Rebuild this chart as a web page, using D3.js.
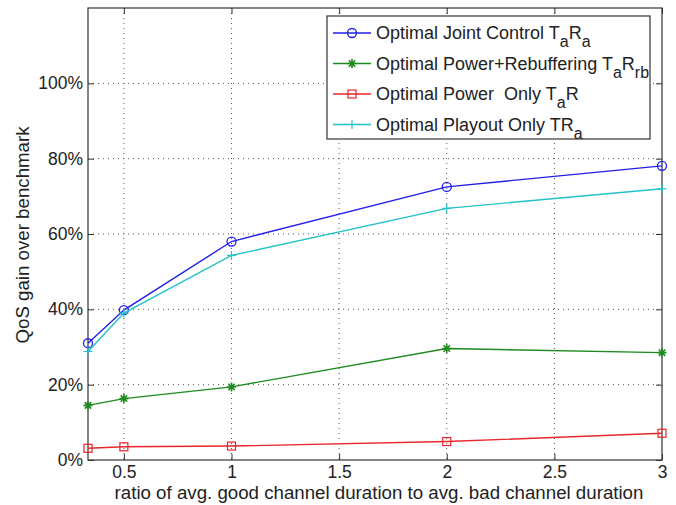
<!DOCTYPE html>
<html>
<head>
<script src="https://d3js.org/d3.v7.min.js"></script>
<style>
  body { margin: 0; background: #fff; }
  text { font-family: "Liberation Sans", Arial, Helvetica, sans-serif; fill: #222; white-space: pre; }
</style>
</head>
<body>
<svg id="chart" width="676" height="505"></svg>
<script>
// data
const ratios = [1/3, 0.5, 1, 2, 3];
const jointControl = [0.310, 0.398, 0.580, 0.725, 0.781];
const powerRebuf = [0.145, 0.163, 0.194, 0.296, 0.285];
const powerOnly = [0.031, 0.035, 0.037, 0.049, 0.071];
const playoutOnly = [0.288, 0.390, 0.543, 0.668, 0.720];
const xTicks = [0.5, 1, 1.5, 2, 2.5, 3];
const yTicks = [0, 0.2, 0.4, 0.6, 0.8, 1.0];

const series = [
  {parts: [["Optimal Joint Control T",0],["a",1],["R",0],["a",1]], vals: jointControl, color: "#1f1fe6", marker: "circle"},
  {parts: [["Optimal Power+Rebuffering T",0],["a",1],["R",0],["rb",1]], vals: powerRebuf, color: "#1f8a1f", marker: "star"},
  {parts: [["Optimal Power  Only T",0],["a",1],["R",0]], vals: powerOnly, color: "#e8262b", marker: "square"},
  {parts: [["Optimal Playout Only TR",0],["a",1]], vals: playoutOnly, color: "#22c2c8", marker: "plus"}
];

const svg = d3.select("#chart");
const mL = 88, mR = 662, mT = 8, mB = 460;

const x = d3.scaleLinear().domain([1/3, 3]).range([mL, mR]);
const y = d3.scaleLinear().domain([0, 1.2]).range([mB, mT]);

// grid
const grid = svg.append("g");
grid.selectAll("line.gx").data(xTicks.filter(d => d < 3)).join("line")
  .attr("x1", d => x(d)).attr("x2", d => x(d)).attr("y1", mT).attr("y2", mB)
  .attr("stroke", "#555").attr("stroke-width", 1).attr("stroke-dasharray", "1,4");
grid.selectAll("line.gy").data(yTicks.filter(d => d > 0)).join("line")
  .attr("x1", mL).attr("x2", mR).attr("y1", d => y(d)).attr("y2", d => y(d))
  .attr("stroke", "#555").attr("stroke-width", 1).attr("stroke-dasharray", "1,4");

// axes (matlab style: inward ticks on all four sides)
const fmtPct = d => Math.round(d * 100) + "%";
const axB = svg.append("g").attr("transform", `translate(0,${mB})`)
  .call(d3.axisBottom(x).tickValues(xTicks).tickSize(-6).tickPadding(6).tickFormat(d3.format("")));
const axT = svg.append("g").attr("transform", `translate(0,${mT})`)
  .call(d3.axisTop(x).tickValues(xTicks).tickSize(-6).tickFormat(""));
const axL = svg.append("g").attr("transform", `translate(${mL},0)`)
  .call(d3.axisLeft(y).tickValues(yTicks).tickSize(-6).tickPadding(5).tickFormat(fmtPct));
const axR = svg.append("g").attr("transform", `translate(${mR},0)`)
  .call(d3.axisRight(y).tickValues(yTicks).tickSize(-6).tickFormat(""));
[axB, axT, axL, axR].forEach(a => {
  a.select(".domain").remove();
  a.selectAll("line").attr("stroke", "#333");
  a.selectAll("text").style("font-size", "17.5px").attr("fill", "#222");
});
svg.append("rect").attr("x", mL).attr("y", mT).attr("width", mR - mL).attr("height", mB - mT)
  .attr("fill", "none").attr("stroke", "#333").attr("stroke-width", 1.2);

// axis labels
svg.append("text").attr("x", 379).attr("y", 499).attr("text-anchor", "middle")
  .style("font-size", "18.7px").text("ratio of avg. good channel duration to avg. bad channel duration");
svg.append("text").attr("transform", "translate(29,235) rotate(-90)").attr("text-anchor", "middle")
  .style("font-size", "18.7px").text("QoS gain over benchmark");

// marker drawing
function drawMarker(g, type, cx, cy, color) {
  if (type === "circle") {
    g.append("circle").attr("cx", cx).attr("cy", cy).attr("r", 4.5)
      .attr("fill", "none").attr("stroke", color).attr("stroke-width", 1.3);
  } else if (type === "square") {
    g.append("rect").attr("x", cx - 4).attr("y", cy - 4).attr("width", 8).attr("height", 8)
      .attr("fill", "none").attr("stroke", color).attr("stroke-width", 1.2);
  } else if (type === "plus") {
    g.append("path").attr("d", `M${cx - 4.5},${cy}H${cx + 4.5}M${cx},${cy - 4.5}V${cy + 4.5}`)
      .attr("stroke", color).attr("stroke-width", 1.2);
  } else if (type === "star") {
    const r = 4.5, r2 = 3.2;
    g.append("path").attr("d",
      `M${cx - r},${cy}H${cx + r}M${cx},${cy - r}V${cy + r}` +
      `M${cx - r2},${cy - r2}L${cx + r2},${cy + r2}M${cx - r2},${cy + r2}L${cx + r2},${cy - r2}`)
      .attr("stroke", color).attr("stroke-width", 1.6);
  }
}

// lines
const line = d3.line().x((d, i) => x(ratios[i])).y(d => y(d));
series.forEach(s => {
  const g = svg.append("g");
  g.append("path").datum(s.vals).attr("d", line)
    .attr("fill", "none").attr("stroke", s.color).attr("stroke-width", 1.4);
  s.vals.forEach((v, i) => drawMarker(g, s.marker, x(ratios[i]), y(v), s.color));
});

// legend
const lg = svg.append("g");
lg.append("rect").attr("x", 327).attr("y", 16).attr("width", 323).attr("height", 123)
  .attr("fill", "#fff").attr("stroke", "#333").attr("stroke-width", 1.2);
series.forEach((s, i) => {
  const cy = 33 + i * 30.5;
  lg.append("line").attr("x1", 333).attr("x2", 371).attr("y1", cy).attr("y2", cy)
    .attr("stroke", s.color).attr("stroke-width", 1.4);
  drawMarker(lg, s.marker, 352, cy, s.color);
  const t = lg.append("text").attr("x", 376).attr("y", cy + 6).style("font-size", "18px");
  let shift = 0;
  s.parts.forEach(([txt, sub]) => {
    const target = sub ? 8 : 0;
    t.append("tspan").attr("dy", target - shift)
      .style("font-size", sub ? "16px" : "18px").text(txt);
    shift = target;
  });
});
</script>
</body>
</html>
